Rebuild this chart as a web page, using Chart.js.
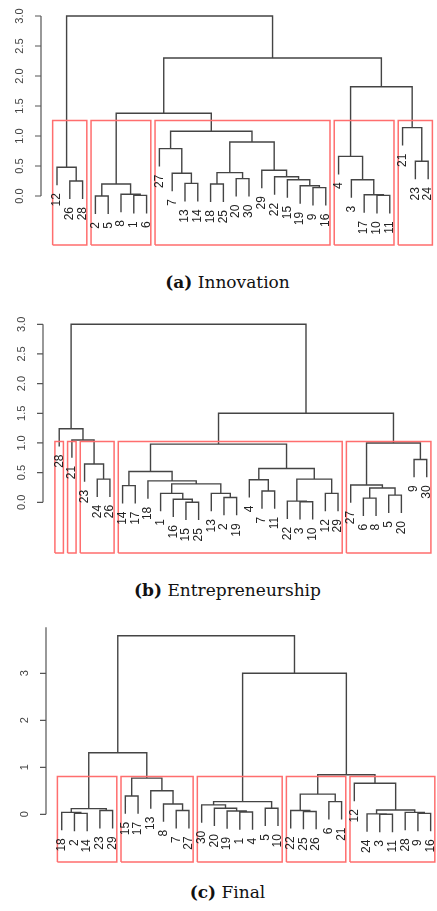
<!DOCTYPE html>
<html>
<head>
<meta charset="utf-8">
<script src="https://cdn.jsdelivr.net/npm/chart.js@4.4.1/dist/chart.umd.min.js"></script>
<style>
  body { margin: 0; background: #fff; width: 437px; height: 911px; position: relative; overflow: hidden; }
  .panel { position: absolute; left: 0; width: 437px; }
  .cap { position: absolute; left: 0; width: 437px; text-align: center; font-family: "DejaVu Serif", serif; font-size: 17px; line-height: 20px; color: #111; padding-left: 18px; box-sizing: border-box; }
</style>
</head>
<body>
<div class="panel" style="top:0"><canvas id="chartA" width="437" height="250"></canvas></div>
<div class="cap" style="top:272px"><b>(a)</b> Innovation</div>
<div class="panel" style="top:300px"><canvas id="chartB" width="437" height="260"></canvas></div>
<div class="cap" style="top:580px"><b>(b)</b> Entrepreneurship</div>
<div class="panel" style="top:610px"><canvas id="chartC" width="437" height="260"></canvas></div>
<div class="cap" style="top:882px"><b>(c)</b> Final</div>

<script>
// leaf order left to right; merges like hclust$merge (negative = leaf label, positive = earlier merge row)
const leavesA = [12, 26, 28, 2, 5, 8, 1, 6, 27, 7, 13, 14, 18, 25, 20, 30, 29, 22, 15, 19, 9, 16, 4, 3, 17, 10, 11, 21, 23, 24];
const mergeA = [[-2, -5], [-1, -6], [-8, 2], [1, 3], [-26, -28], [-12, 5], [-13, -14], [-7, 7], [-27, 8],
  [-18, -25], [-20, -30], [10, 11], [-9, -16], [-19, 13], [-15, 14], [-22, 15], [-29, 16], [12, 17], [9, 18],
  [4, 19], [-10, -11], [-17, 21], [-3, 22], [-4, 23], [-23, -24], [-21, 25], [24, 26], [20, 27], [6, 28]];
const heightA = [0.0, 0.01, 0.03, 0.2, 0.25, 0.48, 0.21, 0.38, 0.79, 0.2, 0.29, 0.39, 0.14, 0.17, 0.27, 0.32, 0.43,
  0.9, 1.08, 1.38, 0.01, 0.02, 0.27, 0.66, 0.58, 1.14, 1.82, 2.3, 3.0];
const yTicksA = [0, 0.5, 1, 1.5, 2, 2.5, 3];

const leavesB = [28, 21, 23, 24, 26, 14, 17, 18, 1, 16, 15, 25, 13, 2, 19, 4, 7, 11, 22, 3, 10, 12, 29, 27, 6, 8, 5, 20, 9, 30];
const mergeB = [[-24, -26], [-23, 1], [-21, 2], [-28, 3], [-14, -17], [-15, -25], [-16, 6], [-1, 7], [-2, -19],
  [-13, 9], [8, 10], [-18, 11], [5, 12], [-7, -11], [-4, 14], [-3, -10], [-22, 16], [-12, -29], [17, 18],
  [15, 19], [13, 20], [-6, -8], [-5, -20], [22, 23], [-27, 24], [-9, -30], [25, 26], [21, 27], [4, 28]];
const heightB = [0.39, 0.645, 1.05, 1.24, 0.28, 0.0, 0.05, 0.15, 0.08, 0.15, 0.31, 0.36, 0.52, 0.19, 0.38, 0.01,
  0.02, 0.15, 0.39, 0.57, 0.98, 0.07, 0.12, 0.24, 0.29, 0.72, 1.0, 1.5, 3.0];
const yTicksB = [0, 0.5, 1, 1.5, 2, 2.5, 3];

const leavesC = [18, 2, 14, 23, 29, 15, 17, 13, 8, 7, 27, 30, 20, 19, 1, 4, 5, 10, 22, 25, 26, 6, 21, 12, 24, 3, 11, 28, 9, 16];
const mergeC = [[-2, -14], [-18, 1], [-23, -29], [2, 3], [-15, -17], [-7, -27], [-8, 6], [-13, 7], [5, 8], [4, 9],
  [-1, -4], [-19, 11], [-20, 12], [-30, 13], [-5, -10], [14, 15], [-25, -26], [-22, 17], [-6, -21], [18, 19],
  [-3, -11], [-24, 21], [-9, -16], [-28, 23], [22, 24], [-12, 25], [20, 26], [16, 27], [10, 28]];
const heightC = [0.02, 0.04, 0.08, 0.12, 0.39, 0.08, 0.22, 0.5, 0.77, 1.31, 0.05, 0.07, 0.13, 0.2, 0.13, 0.27,
  0.06, 0.08, 0.27, 0.43, 0.0, 0.01, 0.02, 0.04, 0.09, 0.66, 0.84, 3.0, 3.8];
const yTicksC = [0, 1, 2, 3];

const groups = 5; // rect.hclust(k = 5) in every panel

const panels = [
  { id: 'chartA', leaves: leavesA, merge: mergeA, height: heightA, ticks: yTicksA, axisTop: 3,
    x: [-0.25, 30.69], y: [-0.817, 3.183], pad: { left: 41, right: 0, top: 5, bottom: 5 } },
  { id: 'chartB', leaves: leavesB, merge: mergeB, height: heightB, ticks: yTicksB, axisTop: 3,
    x: [-0.28, 30.81], y: [-0.855, 3.241], pad: { left: 43, right: 0, top: 10, bottom: 7 } },
  { id: 'chartC', leaves: leavesC, merge: mergeC, height: heightC, ticks: yTicksC, axisTop: 3.98,
    x: [-0.236, 30.5], y: [-1.015, 4.134], pad: { left: 46, right: 0, top: 10, bottom: 8 } }
];

// turn the merge table into U-shaped segments, like plot.hclust(hang = 0.1)
function buildTree(p) {
  const hang = 0.1 * Math.max(...p.height);
  const pos = {};
  p.leaves.forEach((lab, i) => { pos[lab] = i + 1; });
  const nodeX = [], nodeSpan = [];
  const segs = [], tips = [];
  p.merge.forEach((pair, i) => {
    const h = p.height[i];
    const kids = pair.map(c => {
      if (c < 0) {
        const x = pos[-c];
        tips.push({ x: x, y: h - hang, label: String(-c) });
        return { x: x, y: h - hang, lo: x, hi: x };
      }
      return { x: nodeX[c - 1], y: p.height[c - 1], lo: nodeSpan[c - 1][0], hi: nodeSpan[c - 1][1] };
    });
    const [l, r] = kids;
    segs.push({ x: l.x, y: l.y }, { x: l.x, y: h }, { x: r.x, y: h }, { x: r.x, y: r.y }, { x: l.x, y: null });
    nodeX.push((l.x + r.x) / 2);
    nodeSpan.push([Math.min(l.lo, r.lo), Math.max(l.hi, r.hi)]);
  });
  // cut for k groups
  const sorted = [...p.height].sort((a, b) => b - a);
  const cut = (sorted[groups - 2] + sorted[groups - 1]) / 2;
  const boxes = [];
  const walk = (c) => {
    if (c < 0) { boxes.push([pos[-c], pos[-c]]); return; }
    if (p.height[c - 1] > cut) { p.merge[c - 1].forEach(walk); return; }
    boxes.push(nodeSpan[c - 1]);
  };
  walk(p.merge.length);
  const rects = [];
  boxes.forEach(([a, b]) => {
    const x0 = a - 0.34, x1 = b + 0.33;
    rects.push({ x: x0, y: p.y[0] }, { x: x0, y: cut }, { x: x1, y: cut }, { x: x1, y: p.y[0] }, { x: x0, y: p.y[0] }, { x: x0, y: null });
  });
  return { segs, tips, rects };
}

const dendroDecor = {
  id: 'dendroDecor',
  afterDatasetsDraw(chart, args, opts) {
    const { ctx, chartArea } = chart;
    const xs = chart.scales.x, ys = chart.scales.y;
    ctx.save();
    // leaf labels, rotated, hanging under each leaf
    ctx.fillStyle = '#222';
    ctx.font = '12px "Liberation Sans", Arial, sans-serif';
    ctx.textAlign = 'right';
    ctx.textBaseline = 'middle';
    opts.tips.forEach(t => {
      ctx.save();
      ctx.translate(xs.getPixelForValue(t.x), ys.getPixelForValue(t.y) + 8);
      ctx.rotate(-Math.PI / 2);
      ctx.fillText(t.label, 0, 0);
      ctx.restore();
    });
    // R style y axis
    const ax = chartArea.left;
    ctx.strokeStyle = '#555';
    ctx.lineWidth = 1.2;
    ctx.beginPath();
    ctx.moveTo(ax, ys.getPixelForValue(opts.ticks[0]));
    ctx.lineTo(ax, ys.getPixelForValue(opts.axisTop));
    opts.ticks.forEach(v => {
      const py = ys.getPixelForValue(v);
      ctx.moveTo(ax - 6, py);
      ctx.lineTo(ax, py);
    });
    ctx.stroke();
    ctx.fillStyle = '#444';
    ctx.font = '11px "Liberation Sans", Arial, sans-serif';
    ctx.textAlign = 'center';
    opts.ticks.forEach(v => {
      ctx.save();
      ctx.translate(ax - 21, ys.getPixelForValue(v));
      ctx.rotate(-Math.PI / 2);
      ctx.fillText(opts.fmt(v), 0, 0);
      ctx.restore();
    });
    ctx.restore();
  }
};

panels.forEach(p => {
  const tree = buildTree(p);
  const decimals = p.ticks.some(v => v % 1 !== 0);
  new Chart(document.getElementById(p.id), {
    type: 'scatter',
    data: {
      datasets: [
        { data: tree.rects, showLine: true, borderColor: '#ff6e6e', borderWidth: 1.5, pointRadius: 0, clip: false },
        { data: tree.segs, showLine: true, borderColor: '#444', borderWidth: 1.4, pointRadius: 0 }
      ]
    },
    options: {
      responsive: false,
      animation: false,
      devicePixelRatio: 1,
      layout: { padding: p.pad },
      scales: {
        x: { type: 'linear', display: false, min: p.x[0], max: p.x[1] },
        y: { type: 'linear', display: false, min: p.y[0], max: p.y[1] }
      },
      plugins: {
        legend: { display: false },
        tooltip: { enabled: false },
        dendroDecor: { tips: tree.tips, ticks: p.ticks, axisTop: p.axisTop, fmt: v => decimals ? v.toFixed(1) : String(v) }
      }
    },
    plugins: [dendroDecor]
  });
});
</script>
</body>
</html>
